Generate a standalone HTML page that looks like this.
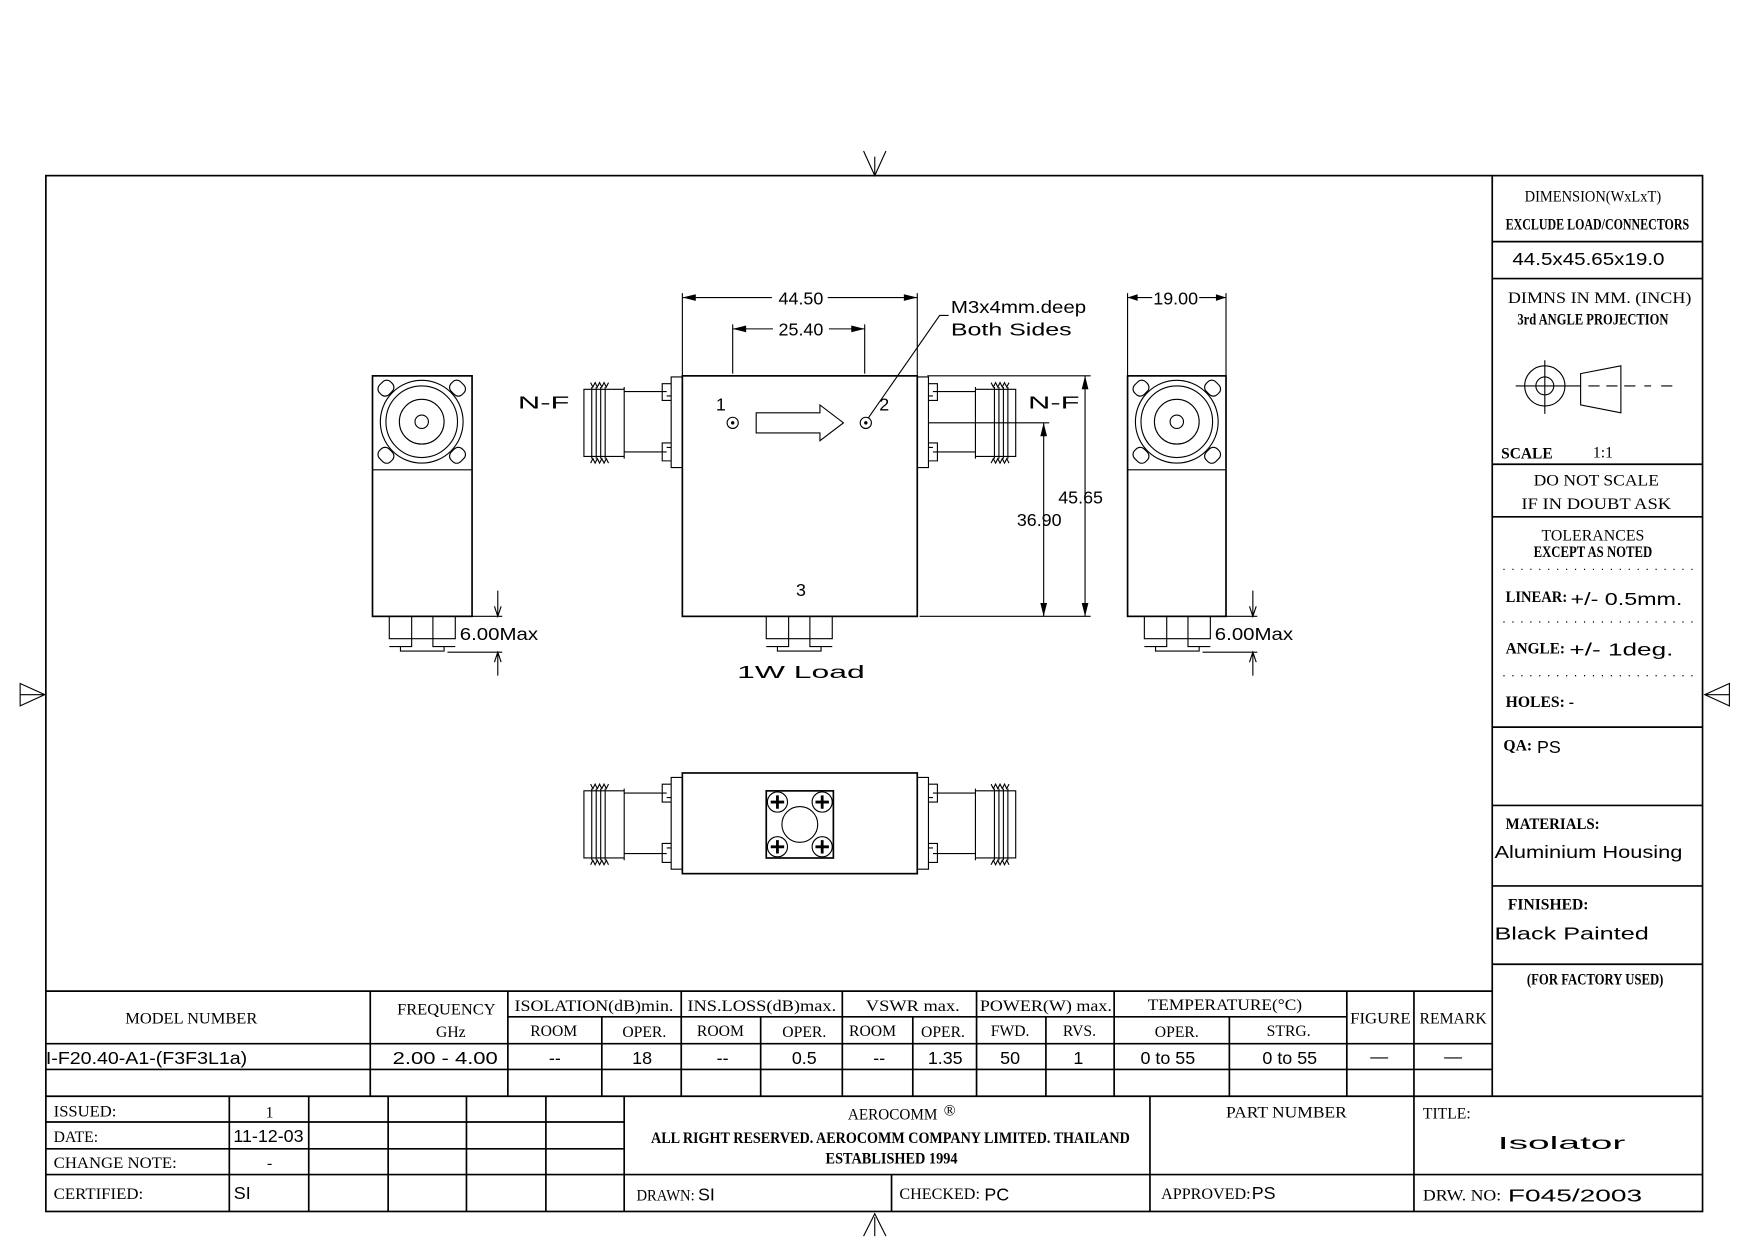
<!DOCTYPE html>
<html><head><meta charset="utf-8"><style>
html,body{margin:0;padding:0;background:#fff;}
svg{display:block;}
.l{stroke:#000;stroke-width:1.5;fill:none;}
.t{stroke:#000;stroke-width:1;fill:none;}
.d{stroke:#000;stroke-width:1.2;fill:none;stroke-dasharray:1 7;}
text{fill:#000;}
.s{font-family:"Liberation Serif",serif;font-size:14px;}
.sb{font-family:"Liberation Serif",serif;font-size:14px;font-weight:bold;}
.r{font-family:"Liberation Sans",sans-serif;font-size:16px;}
</style></head><body>
<svg width="1754" height="1240" viewBox="0 0 1568 1108.5" preserveAspectRatio="none" xmlns="http://www.w3.org/2000/svg">
<rect width="1568" height="1109" fill="#fff"/>
<!-- frame -->
<rect class="l" x="41" y="157" width="1481" height="926"/>
<path class="t" d="M772 135 L782 157 L792 135 M782 140 V157"/>
<path class="t" d="M772 1105 L782 1085 L792 1105 M782 1088 V1105"/>
<path class="t" d="M18 611 L40 621 L18 631 Z M18 621 H40"/>
<path class="t" d="M1546 611 L1524 621 L1546 631 Z M1524 621 H1546"/>

<!-- right panel -->
<path class="l" d="M1334 157 V980 M1334 216 H1522 M1334 249 H1522 M1334 415 H1522 M1334 462 H1522 M1334 650 H1522 M1334 720 H1522 M1334 792 H1522 M1334 862 H1522"/>
<path class="d" d="M1344 509 H1520 M1344 556 H1520 M1344 604 H1520"/>
<text class="s" x="1424" y="180" text-anchor="middle" textLength="122" lengthAdjust="spacingAndGlyphs">DIMENSION(WxLxT)</text>
<text class="sb" x="1428" y="205" text-anchor="middle" font-size="11" textLength="164" lengthAdjust="spacingAndGlyphs">EXCLUDE LOAD/CONNECTORS</text>
<text class="r" x="1420" y="237" text-anchor="middle" textLength="136" lengthAdjust="spacingAndGlyphs">44.5x45.65x19.0</text>
<text class="s" x="1430" y="271" text-anchor="middle" font-size="15" textLength="164" lengthAdjust="spacingAndGlyphs">DIMNS IN MM. (INCH)</text>
<text class="sb" x="1424" y="290" text-anchor="middle" font-size="11" textLength="135" lengthAdjust="spacingAndGlyphs">3rd ANGLE PROJECTION</text>
<circle class="t" cx="1381" cy="345" r="18"/><circle class="t" cx="1381" cy="345" r="8"/>
<path class="t" d="M1381 322 V370 M1355 345 H1413 M1375 345 H1387 M1381 339 V351 M1413 334 L1449 327 V369 L1413 362 Z M1420 345 H1430 M1436 345 H1446 M1452 345 H1462 M1470 345 H1476 M1485 345 H1495 M1449 338 V352"/>
<text class="sb" x="1342" y="410" font-size="13" textLength="46" lengthAdjust="spacingAndGlyphs">SCALE</text>
<text class="s" x="1424" y="409" font-size="22">1:1</text>
<text class="s" x="1427" y="434" text-anchor="middle" font-size="15" textLength="112" lengthAdjust="spacingAndGlyphs">DO NOT SCALE</text>
<text class="s" x="1427" y="455" text-anchor="middle" font-size="15" textLength="134" lengthAdjust="spacingAndGlyphs">IF IN DOUBT ASK</text>
<text class="s" x="1424" y="483" text-anchor="middle" font-size="15" textLength="92" lengthAdjust="spacingAndGlyphs">TOLERANCES</text>
<text class="sb" x="1424" y="498" text-anchor="middle" font-size="10" textLength="106" lengthAdjust="spacingAndGlyphs">EXCEPT AS NOTED</text>
<text class="sb" x="1346" y="538" font-size="13" textLength="55" lengthAdjust="spacingAndGlyphs">LINEAR:</text>
<text class="r" x="1404" y="541" textLength="100" lengthAdjust="spacingAndGlyphs">+/-  0.5mm.</text>
<text class="sb" x="1346" y="584" font-size="13" textLength="53" lengthAdjust="spacingAndGlyphs">ANGLE:</text>
<text class="r" x="1403" y="586" textLength="93" lengthAdjust="spacingAndGlyphs">+/-  1deg.</text>
<text class="sb" x="1346" y="632" font-size="13">HOLES:  -</text>
<text class="sb" x="1344" y="671" font-size="13">QA:</text><text class="r" x="1374" y="673">PS</text>
<text class="sb" x="1346" y="741" font-size="13" textLength="84" lengthAdjust="spacingAndGlyphs">MATERIALS:</text>
<text class="r" x="1336" y="767" textLength="168" lengthAdjust="spacingAndGlyphs">Aluminium Housing</text>
<text class="sb" x="1348" y="813" font-size="13" textLength="72" lengthAdjust="spacingAndGlyphs">FINISHED:</text>
<text class="r" x="1336" y="840" textLength="138" lengthAdjust="spacingAndGlyphs">Black Painted</text>
<text class="sb" x="1426" y="880" text-anchor="middle" font-size="11" textLength="122" lengthAdjust="spacingAndGlyphs">(FOR FACTORY USED)</text>

<!-- spec table -->
<path class="l" d="M41 886 H1334 M454 909 H1204 M41 933 H1334 M41 956 H1334 M41 980 H1522"/>
<path class="l" d="M331 886 V980 M454 886 V980 M609 886 V980 M753 886 V980 M873 886 V980 M996 886 V980 M1204 886 V980 M1264 886 V980 M538 909 V980 M680 909 V980 M816 909 V980 M935 909 V980 M1099 909 V980"/>
<g class="s" text-anchor="middle">
<text x="171" y="915" textLength="118" lengthAdjust="spacingAndGlyphs">MODEL NUMBER</text>
<text x="399" y="907" textLength="88" lengthAdjust="spacingAndGlyphs">FREQUENCY</text>
<text x="403" y="927">GHz</text>
<text x="531" y="904" textLength="142" lengthAdjust="spacingAndGlyphs">ISOLATION(dB)min.</text>
<text x="681" y="904" textLength="133" lengthAdjust="spacingAndGlyphs">INS.LOSS(dB)max.</text>
<text x="816" y="904" textLength="84" lengthAdjust="spacingAndGlyphs">VSWR  max.</text>
<text x="935" y="904" textLength="118" lengthAdjust="spacingAndGlyphs">POWER(W)  max.</text>
<text x="1095" y="903" textLength="138" lengthAdjust="spacingAndGlyphs">TEMPERATURE(°C)</text>
<text x="1234" y="915" textLength="54" lengthAdjust="spacingAndGlyphs">FIGURE</text>
<text x="1299" y="915" textLength="60" lengthAdjust="spacingAndGlyphs">REMARK</text>
<text x="495" y="926">ROOM</text><text x="576" y="927">OPER.</text>
<text x="644" y="926">ROOM</text><text x="719" y="927">OPER.</text>
<text x="780" y="926">ROOM</text><text x="843" y="927">OPER.</text>
<text x="903" y="926">FWD.</text><text x="965" y="926">RVS.</text>
<text x="1052" y="927">OPER.</text><text x="1152" y="926">STRG.</text>
</g>
<g class="r" text-anchor="middle" font-size="15">
<text x="131" y="951" textLength="180" lengthAdjust="spacingAndGlyphs">I-F20.40-A1-(F3F3L1a)</text>
<text x="398" y="951" textLength="94" lengthAdjust="spacingAndGlyphs">2.00  -  4.00</text>
<text x="496" y="951">--</text><text x="574" y="951">18</text>
<text x="646" y="951">--</text><text x="719" y="951">0.5</text>
<text x="786" y="951">--</text><text x="845" y="951">1.35</text>
<text x="903" y="951">50</text><text x="964" y="951">1</text>
<text x="1044" y="951">0 to 55</text><text x="1153" y="951">0 to 55</text>
<text x="1233" y="950">—</text><text x="1299" y="950">—</text>
</g>

<!-- title block -->
<path class="l" d="M41 1003 H558 M41 1027 H558 M41 1050 H1522 M205 980 V1083 M276 980 V1083 M347 980 V1083 M417 980 V1083 M488 980 V1083 M558 980 V1083 M1028 980 V1083 M1264 980 V1083 M797 1050 V1083"/>
<text class="s" x="48" y="998" textLength="56" lengthAdjust="spacingAndGlyphs">ISSUED:</text>
<text class="s" x="241" y="999" text-anchor="middle" font-size="16">1</text>
<text class="s" x="48" y="1021">DATE:</text>
<text class="r" x="240" y="1021" text-anchor="middle" font-size="12">11-12-03</text>
<text class="s" x="48" y="1044" textLength="110" lengthAdjust="spacingAndGlyphs">CHANGE NOTE:</text>
<text class="s" x="241" y="1044" text-anchor="middle">-</text>
<text class="s" x="48" y="1072" textLength="80" lengthAdjust="spacingAndGlyphs">CERTIFIED:</text>
<text class="r" x="209" y="1072" font-size="14">SI</text>
<text class="s" x="798" y="1001" text-anchor="middle" textLength="80" lengthAdjust="spacingAndGlyphs">AEROCOMM</text>
<text class="s" x="849" y="997" text-anchor="middle" font-size="16">®</text>
<text class="sb" x="796" y="1022" text-anchor="middle" font-size="12" textLength="428" lengthAdjust="spacingAndGlyphs">ALL RIGHT RESERVED. AEROCOMM COMPANY LIMITED. THAILAND</text>
<text class="sb" x="797" y="1040" text-anchor="middle" font-size="12" textLength="118" lengthAdjust="spacingAndGlyphs">ESTABLISHED 1994</text>
<text class="s" x="569" y="1073" textLength="52" lengthAdjust="spacingAndGlyphs">DRAWN:</text><text class="r" x="624" y="1073" font-size="14">SI</text>
<text class="s" x="804" y="1072" textLength="72" lengthAdjust="spacingAndGlyphs">CHECKED:</text><text class="r" x="880" y="1073" font-size="14">PC</text>
<text class="s" x="1150" y="999" text-anchor="middle" textLength="108" lengthAdjust="spacingAndGlyphs">PART NUMBER</text>
<text class="s" x="1038" y="1072" textLength="80" lengthAdjust="spacingAndGlyphs">APPROVED:</text><text class="r" x="1119" y="1072" font-size="14">PS</text>
<text class="s" x="1272" y="1000">TITLE:</text>
<text class="r" x="1396" y="1027" text-anchor="middle" font-size="26" textLength="114" lengthAdjust="spacingAndGlyphs">Isolator</text>
<text class="s" x="1272" y="1073" textLength="70" lengthAdjust="spacingAndGlyphs">DRW.  NO:</text>
<text class="r" x="1348" y="1074" font-size="21" textLength="120" lengthAdjust="spacingAndGlyphs">F045/2003</text>

<!-- left end view -->
<rect class="l" x="333" y="336" width="89" height="215"/>
<path class="t" d="M333 420 H422"/>
<circle class="t" cx="377" cy="377" r="37"/><circle class="t" cx="377" cy="377" r="32"/><circle class="t" cx="377" cy="377" r="20"/><circle class="t" cx="377" cy="377" r="6"/>
<g class="t"><rect x="338" y="341" width="14" height="12" rx="5" transform="rotate(-45 345 347)"/><rect x="402" y="341" width="14" height="12" rx="5" transform="rotate(45 409 347)"/><rect x="338" y="401" width="14" height="12" rx="5" transform="rotate(45 345 407)"/><rect x="402" y="401" width="14" height="12" rx="5" transform="rotate(-45 409 407)"/></g>
<path class="t" d="M348 551 V571 H368 V551 M368 571 V578 H348 M387 551 V571 H407 V551 M387 571 V578 H407 M368 571 H387 M358 578 V582 H397 V578"/>
<path class="t" d="M407 551 H449 M400 583 H449 M445 528 V551 M442 542 L445 551 L448 542 M445 583 V604 M442 592 L445 583 L448 592"/>
<text class="r" x="411" y="572" textLength="70" lengthAdjust="spacingAndGlyphs">6.00Max</text>

<!-- right end view -->
<rect class="l" x="1008" y="336" width="88" height="215"/>
<path class="t" d="M1008 420 H1096"/>
<circle class="t" cx="1052" cy="377" r="37"/><circle class="t" cx="1052" cy="377" r="32"/><circle class="t" cx="1052" cy="377" r="20"/><circle class="t" cx="1052" cy="377" r="6"/>
<g class="t"><rect x="1013" y="341" width="14" height="12" rx="5" transform="rotate(-45 1020 347)"/><rect x="1077" y="341" width="14" height="12" rx="5" transform="rotate(45 1084 347)"/><rect x="1013" y="401" width="14" height="12" rx="5" transform="rotate(45 1020 407)"/><rect x="1077" y="401" width="14" height="12" rx="5" transform="rotate(-45 1084 407)"/></g>
<path class="t" d="M1023 551 V571 H1043 V551 M1043 571 V578 H1023 M1062 551 V571 H1082 V551 M1062 571 V578 H1082 M1043 571 H1062 M1033 578 V582 H1072 V578"/>
<path class="t" d="M1082 551 H1124 M1075 583 H1124 M1120 528 V551 M1117 542 L1120 551 L1123 542 M1120 583 V604 M1117 592 L1120 583 L1123 592"/>
<text class="r" x="1086" y="572" textLength="70" lengthAdjust="spacingAndGlyphs">6.00Max</text>
<path class="t" d="M1008 262 V336 M1096 262 V336 M1008 266 H1096"/>
<path d="M1008 266 L1017 263 V269 Z M1096 266 L1087 263 V269 Z"/>
<rect x="1030" y="258" width="42" height="16" fill="#fff"/>
<text class="r" x="1051" y="272" text-anchor="middle">19.00</text>

<!-- main top view -->
<rect class="l" x="610" y="336" width="210" height="215"/>
<g id="lc">
<path class="t" d="M600 337 H610 V418 H600 Z M592 343 H600 V358 H592 Z M592 396 H600 V412 H592 Z M596 354 H600 M596 400 H600"/>
<path class="t" d="M558 350 H596 M558 404 H596 M558 346 V410 M522 348 H558 V408 H522 Z"/>
<path class="t" d="M528 342 L530 346 L532 342 L534 346 L536 342 L538 346 L540 342 L542 346 L544 342 M528 414 L530 410 L532 414 L534 410 L536 414 L538 410 L540 414 L542 410 L544 414 M529 346 V410 M533 346 V410 M537 346 V410 M541 346 V410"/>
</g>
<use href="#lc" transform="translate(1430 0) scale(-1 1)"/>
<circle class="t" cx="655" cy="378" r="5"/><circle cx="655" cy="378" r="1.5"/>
<circle class="t" cx="774" cy="378" r="5"/><circle cx="774" cy="378" r="1.5"/>
<path class="t" d="M676 369 H733 V362 L754 378 L733 394 V387 H676 Z"/>
<text class="r" x="640" y="367" font-size="20">1</text>
<text class="r" x="786" y="367" font-size="20">2</text>
<text class="r" x="716" y="533" text-anchor="middle" font-size="20">3</text>
<text class="r" x="716" y="606" text-anchor="middle" font-size="22" textLength="114" lengthAdjust="spacingAndGlyphs">1W  Load</text>
<path class="t" d="M685 551 V571 H705 V551 M705 571 V578 H685 M724 551 V571 H744 V551 M724 571 V578 H744 M705 571 H724 M695 578 V582 H734 V578"/>
<text class="r" x="463" y="365" font-size="20" textLength="46" lengthAdjust="spacingAndGlyphs">N-F</text>
<text class="r" x="919" y="365" font-size="20" textLength="46" lengthAdjust="spacingAndGlyphs">N-F</text>
<text class="r" x="850" y="280" font-size="17" textLength="121" lengthAdjust="spacingAndGlyphs">M3x4mm.deep</text>
<text class="r" x="850" y="300" font-size="17" textLength="108" lengthAdjust="spacingAndGlyphs">Both Sides</text>
<path class="t" d="M848 282 H840 L776 374"/>
<!-- dims -->
<path class="t" d="M610 262 V336 M820 262 V336 M610 266 H820 M655 290 V334 M773 290 V334 M655 294 H773"/>
<path d="M610 266 L622 263 V269 Z M820 266 L808 263 V269 Z M655 294 L667 291 V297 Z M773 294 L761 291 V297 Z"/>
<rect x="690" y="258" width="50" height="16" fill="#fff"/>
<rect x="691" y="286" width="50" height="16" fill="#fff"/>
<text class="r" x="716" y="272" text-anchor="middle">44.50</text>
<text class="r" x="716" y="300" text-anchor="middle">25.40</text>
<path class="t" d="M829 336 H975 M822 551 H975 M830 378 H938 M970 336 V551 M933 378 V551"/>
<path d="M970 336 L967 348 H973 Z M970 551 L967 539 H973 Z M933 378 L930 390 H936 Z M933 551 L930 539 H936 Z"/>
<text class="r" x="946" y="450" font-size="17">45.65</text>
<text class="r" x="909" y="470" font-size="17">36.90</text>

<!-- bottom view -->
<rect class="l" x="610" y="691" width="210" height="90"/>
<g id="bc">
<path class="t" d="M600 695 H610 V777 H600 Z M592 701 H600 V717 H592 Z M592 754 H600 V771 H592 Z M596 713 H600 M596 758 H600"/>
<path class="t" d="M558 709 H596 M558 763 H596 M558 705 V769 M522 707 H558 V767 H522 Z"/>
<path class="t" d="M528 701 L530 705 L532 701 L534 705 L536 701 L538 705 L540 701 L542 705 L544 701 M528 773 L530 769 L532 773 L534 769 L536 773 L538 769 L540 773 L542 769 L544 773 M529 705 V769 M533 705 V769 M537 705 V769 M541 705 V769"/>
</g>
<use href="#bc" transform="translate(1430 0) scale(-1 1)"/>
<rect class="l" x="685" y="707" width="60" height="60"/>
<circle class="t" cx="715" cy="737" r="16"/>
<g class="t">
<circle cx="695" cy="717" r="9"/><circle cx="735" cy="717" r="9"/><circle cx="695" cy="757" r="9"/><circle cx="735" cy="757" r="9"/>
<path d="M689 717 H701 M695 711 V723 M729 717 H741 M735 711 V723 M689 757 H701 M695 751 V763 M729 757 H741 M735 751 V763" stroke-width="2.5"/>
</g>
</svg>
</body></html>
